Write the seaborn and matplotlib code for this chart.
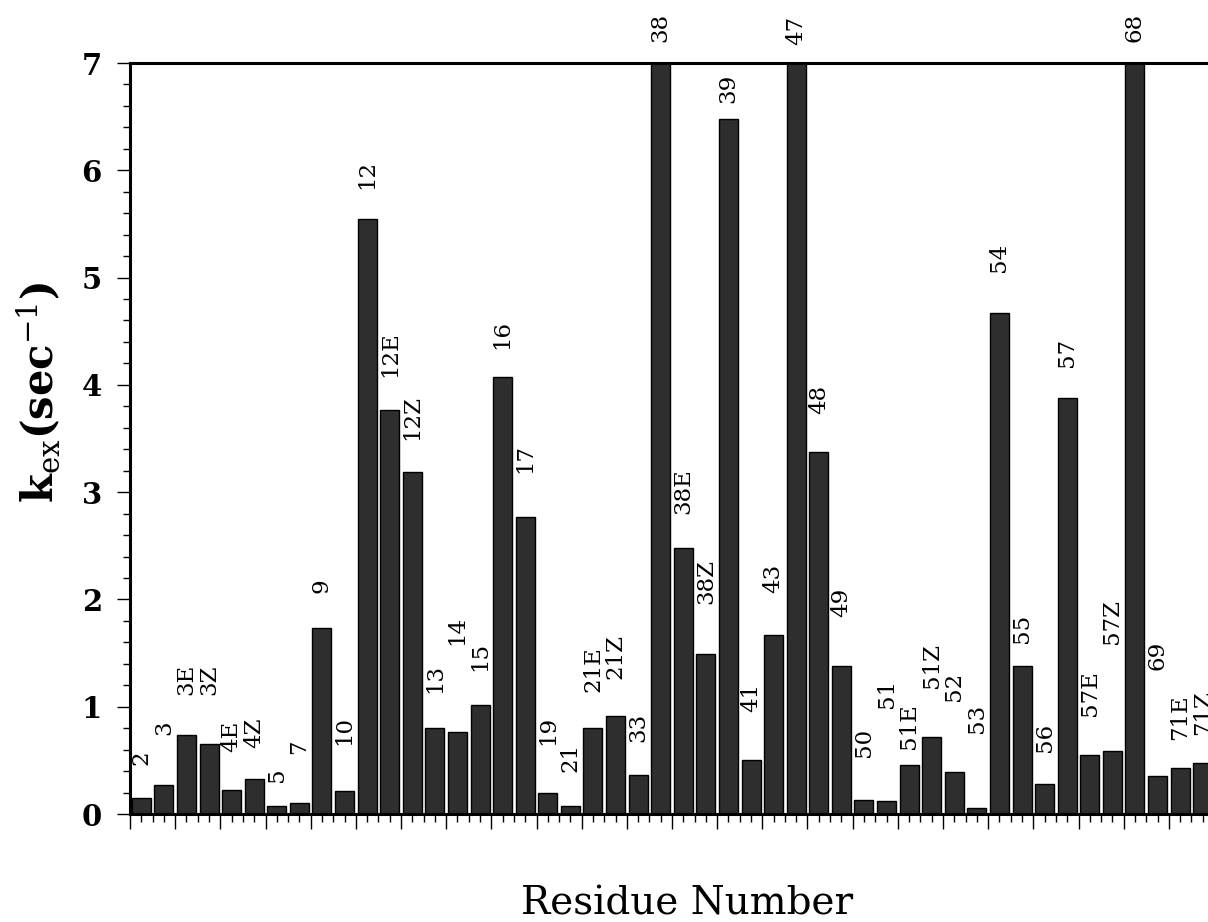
import matplotlib
matplotlib.use("Agg")
import matplotlib.pyplot as plt
from matplotlib.ticker import MultipleLocator, FixedLocator
import seaborn as sns
import pandas as pd
import numpy as np

# ---- data ----
residues = ["2", "3", "3E", "3Z", "4E", "4Z", "5", "7", "9", "10",
            "12", "12E", "12Z", "13", "14", "15", "16", "17", "19", "21",
            "21E", "21Z", "33", "38", "38E", "38Z", "39", "41", "43", "47",
            "48", "49", "50", "51", "51E", "51Z", "52", "53", "54", "55",
            "56", "57", "57E", "57Z", "68", "69", "71E", "71Z"]
kex = [0.15, 0.27, 0.74, 0.65, 0.22, 0.33, 0.07, 0.10, 1.73, 0.21,
       5.55, 3.77, 3.19, 0.80, 0.76, 1.02, 4.07, 2.77, 0.20, 0.07,
       0.80, 0.91, 0.36, 7.60, 2.48, 1.49, 6.48, 0.50, 1.67, 7.60,
       3.37, 1.38, 0.13, 0.12, 0.46, 0.72, 0.39, 0.06, 4.67, 1.38,
       0.28, 3.88, 0.55, 0.59, 7.60, 0.35, 0.43, 0.48]
yticks = [0, 1, 2, 3, 4, 5, 6, 7]

# ---- layout (label gap above bar top, pixels) ----
label_gap = [33, 50, 40, 49, 38, 31, 24, 49, 35, 46,
             30, 33, 32, 35, 87, 34, 28, 44, 48, 34,
             36, 37, 33, 21, 34, 50, 16, 48, 42, 18,
             38, 49, 43, 93, 16, 49, 71, 75, 41, 23,
             32, 31, 39, 107, 21, 106, 28, 28]

sns.set_style("ticks")
plt.rcParams["font.family"] = ["DejaVu Serif"]
plt.rcParams["mathtext.fontset"] = "dejavuserif"
for k in ["text.color", "axes.labelcolor", "xtick.color", "ytick.color", "axes.edgecolor"]:
    plt.rcParams[k] = "black"

W, H = 1208, 922
fig = plt.figure(figsize=(W / 100, H / 100), dpi=100)
left, right, top, bottom = 130, 1214, 63, 814
ax = fig.add_axes([left / W, 1 - bottom / H, (right - left) / W, (bottom - top) / H])

df = pd.DataFrame({"res": residues, "kex": kex})
sns.barplot(data=df, x="res", y="kex", order=residues, color="#2e2e2e",
            saturation=1, edgecolor="black", linewidth=1.0, width=0.84, ax=ax)

ymax = 7
ax.set_ylim(0, ymax)
ax.set_xlim(-0.5, len(residues) - 0.5)

for i, (lab, v, g) in enumerate(zip(residues, kex, label_gap)):
    ax.annotate(lab, xy=(i, min(v, ymax)), xytext=(0, g), textcoords="offset pixels",
                rotation=90, ha="center", va="bottom", fontsize=16.5, color="black",
                annotation_clip=False, family="DejaVu Serif")

# ticks
ax.xaxis.set_major_locator(FixedLocator(np.arange(-0.5, len(residues), 2)))
ax.xaxis.set_minor_locator(FixedLocator(np.arange(-0.5, len(residues), 0.5)))
ax.set_xticklabels([])
ax.yaxis.set_major_locator(FixedLocator(yticks))
ax.yaxis.set_minor_locator(MultipleLocator(0.2))
ax.set_yticklabels([str(t) for t in yticks], fontsize=21, fontweight="bold")
ax.tick_params(axis="x", which="major", direction="out", length=11, width=1.0, color="black")
ax.tick_params(axis="x", which="minor", direction="out", length=6, width=1.0, color="black")
ax.tick_params(axis="y", which="major", direction="out", length=9.2, width=1.0, pad=11,
               color="black", labelcolor="black")
ax.tick_params(axis="y", which="minor", direction="out", length=4.8, width=1.0, color="black")

for s in ["left", "top", "bottom"]:
    ax.spines[s].set_visible(True)
    ax.spines[s].set_linewidth(2.2)
    ax.spines[s].set_color("black")
ax.spines["right"].set_visible(False)
ax.set_xlabel("")
ax.set_ylabel("")

fig.text(38 / W, 1 - 392 / H, r"$\mathbf{k}_{\mathrm{ex}}\mathbf{(sec}^{-1}\mathbf{)}$",
         rotation=90, ha="center", va="center", fontsize=30, color="black")
fig.text(687 / W, 1 - 904 / H, "Residue Number", ha="center", va="center", fontsize=28,
         color="black")

fig.savefig("out.png", dpi=100)
